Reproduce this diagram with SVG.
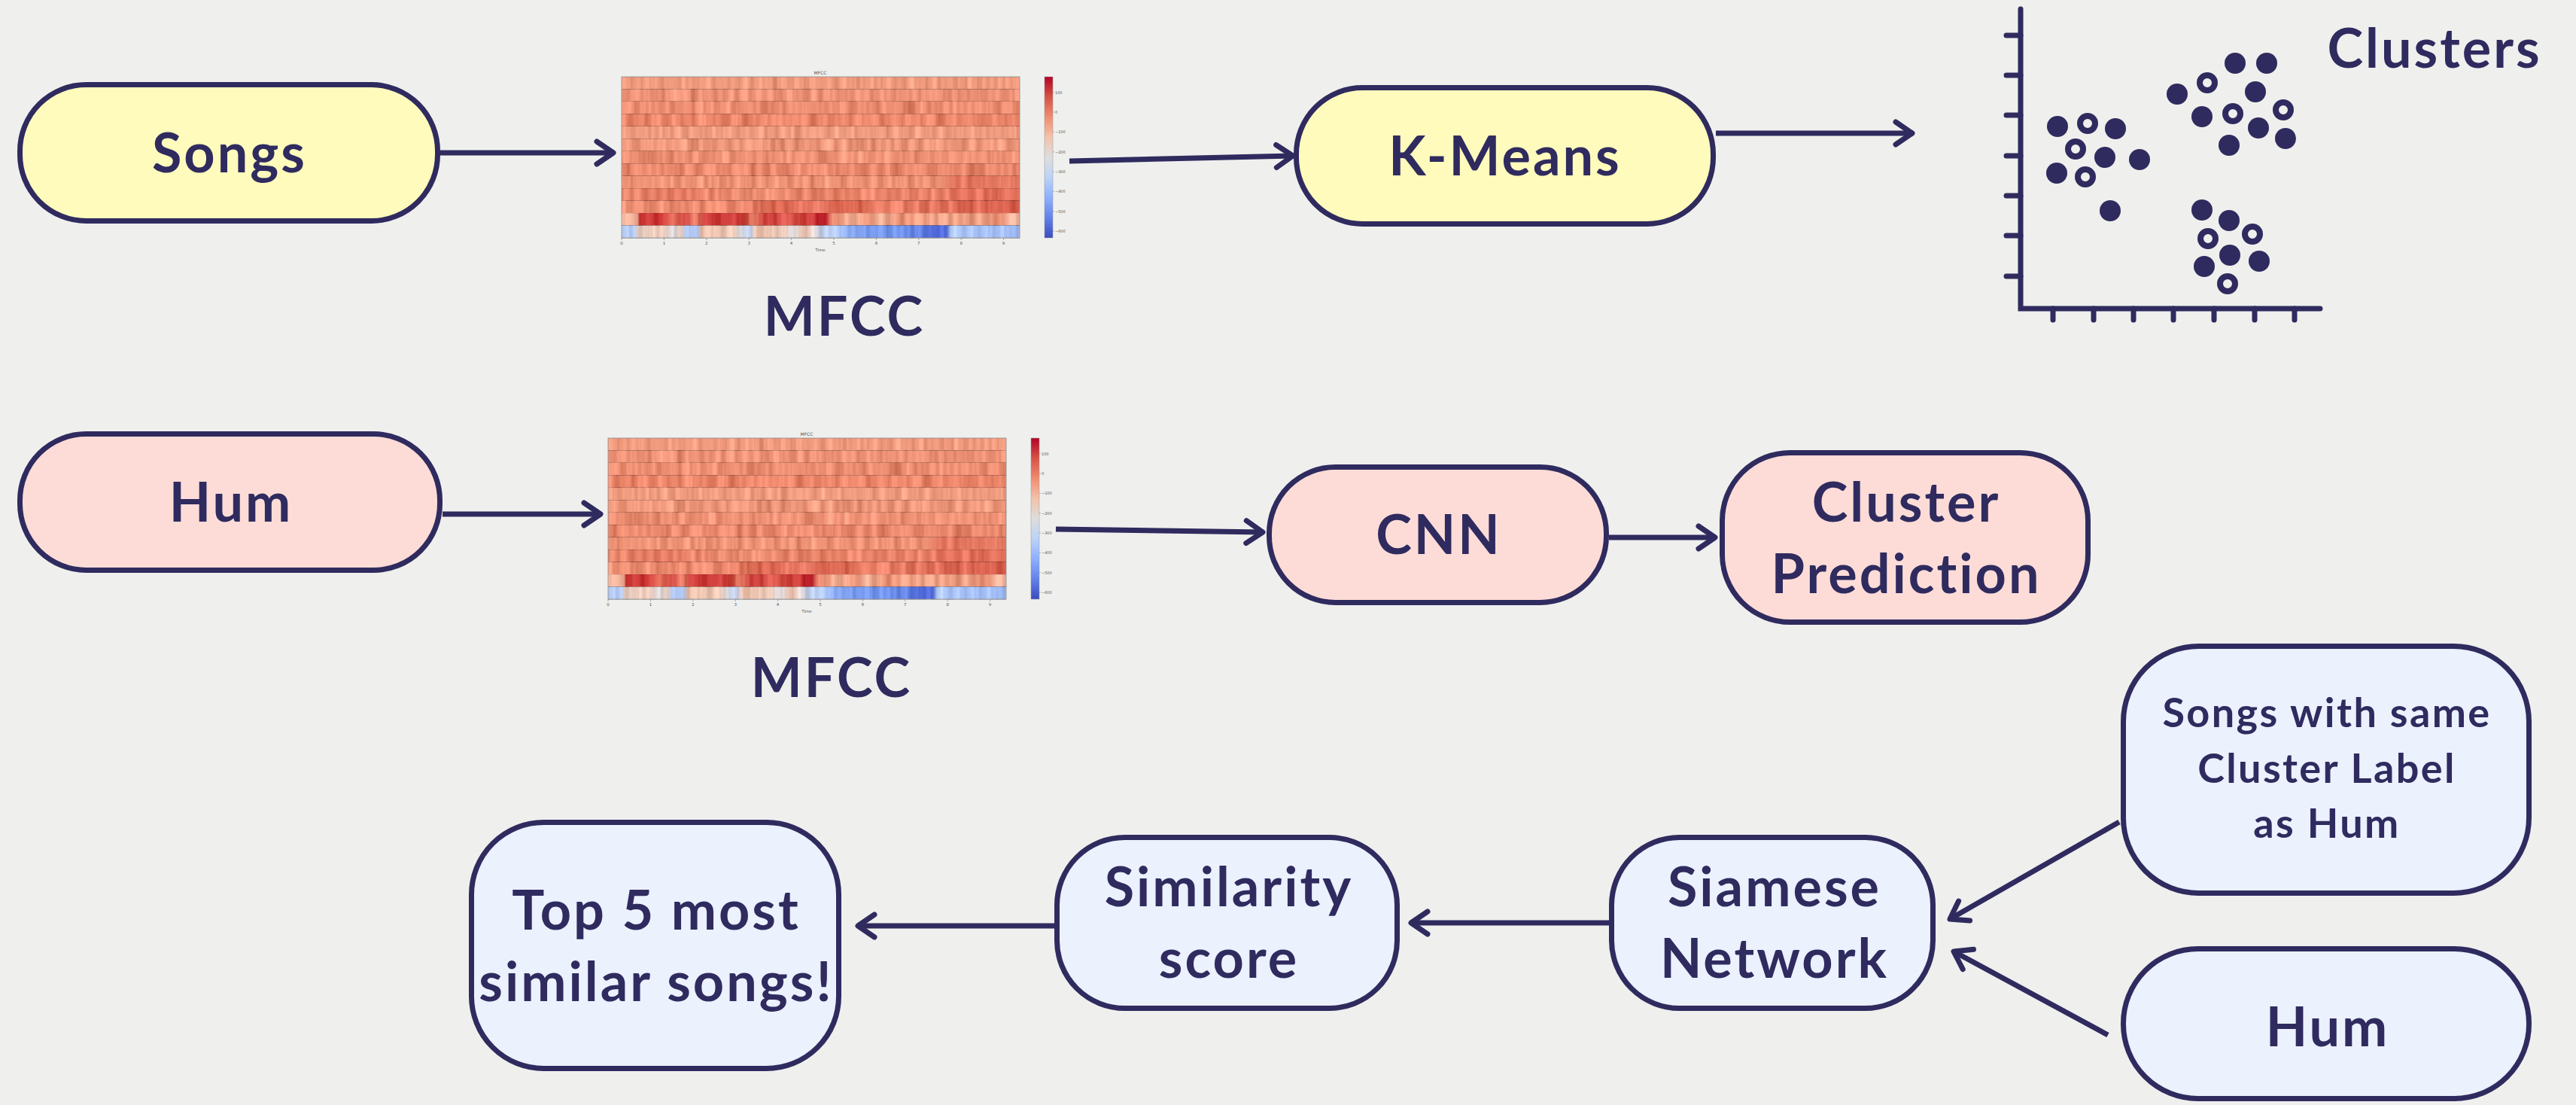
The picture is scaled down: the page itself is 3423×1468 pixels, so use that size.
<svg xmlns="http://www.w3.org/2000/svg" width="3423" height="1468" viewBox="0 0 3423 1468">
  <style>
    .node { stroke: #2f2b5f; stroke-width: 7; }
    .yellow { fill: #fffbbd; }
    .pink { fill: #fddcd7; }
    .blue { fill: #ebf1fd; }
    .label { font-family: Lato, "Liberation Sans", sans-serif; font-weight: 700; fill: #2f2b5f; text-anchor: middle; }
    .big { font-size: 72px; letter-spacing: 3px; }
    .mid { font-size: 54px; letter-spacing: 2.4px; }
    .edge { fill: none; stroke: #2f2b5f; stroke-width: 7; marker-end: url(#chev); }
    .tiny { font-family: "DejaVu Sans", sans-serif; fill: #555; text-anchor: middle; }
    .ink { fill: #2f2b5f; }
    .ring { fill: none; stroke: #2f2b5f; stroke-width: 8; }
    .axis { fill: none; stroke: #2f2b5f; stroke-width: 7; stroke-linecap: round; }
  </style>
  <defs>
    <marker id="chev" markerUnits="userSpaceOnUse" orient="auto" refX="0" refY="0" markerWidth="40" markerHeight="40" overflow="visible">
      <path d="M-22,-15 L0,0 L-22,15" fill="none" stroke="#2f2b5f" stroke-width="7" stroke-linecap="round" stroke-linejoin="round"/>
    </marker>

    <!-- frame-by-frame texture for the coefficient rows -->
    <filter id="frames" x="0" y="0" width="1" height="1" color-interpolation-filters="sRGB">
      <feTurbulence type="fractalNoise" baseFrequency="0.1 0.0025" numOctaves="3" seed="7" result="t"/>
      <feColorMatrix in="t" type="matrix" values="1 0 0 0 0  1 0 0 0 0  1 0 0 0 0  0 0 0 0 1" result="g"/>
      <feComposite in="SourceGraphic" in2="g" operator="arithmetic" k1="0" k2="1" k3="0.36" k4="-0.18"/>
    </filter>

    <linearGradient id="coolwarm" x1="0" y1="0" x2="0" y2="1">
      <stop offset="0" stop-color="#b40426"/>
      <stop offset="0.125" stop-color="#d65244"/>
      <stop offset="0.25" stop-color="#f08c6f"/>
      <stop offset="0.375" stop-color="#f3c2aa"/>
      <stop offset="0.5" stop-color="#dddddd"/>
      <stop offset="0.625" stop-color="#bcd2f7"/>
      <stop offset="0.75" stop-color="#8db0fe"/>
      <stop offset="0.875" stop-color="#6282ea"/>
      <stop offset="1" stop-color="#3b4cc0"/>
    </linearGradient>

    <linearGradient id="row8" x1="0" x2="1" y1="0" y2="0">
      <stop offset="0" stop-color="#ef9477"/>
      <stop offset="0.8" stop-color="#ee9275"/>
      <stop offset="0.84" stop-color="#e2745d"/>
      <stop offset="1" stop-color="#e47a62"/>
    </linearGradient>
    <linearGradient id="row9" x1="0" x2="1" y1="0" y2="0">
      <stop offset="0" stop-color="#ed8d72"/>
      <stop offset="0.14" stop-color="#e67b63"/>
      <stop offset="0.3" stop-color="#ee9074"/>
      <stop offset="0.55" stop-color="#eb866b"/>
      <stop offset="0.8" stop-color="#e98269"/>
      <stop offset="0.84" stop-color="#df6c56"/>
      <stop offset="1" stop-color="#e06e58"/>
    </linearGradient>
    <linearGradient id="row10" x1="0" x2="1" y1="0" y2="0">
      <stop offset="0" stop-color="#ee9074"/>
      <stop offset="0.3" stop-color="#eb876c"/>
      <stop offset="0.4" stop-color="#e06a55"/>
      <stop offset="0.5" stop-color="#e47560"/>
      <stop offset="0.55" stop-color="#df6853"/>
      <stop offset="0.7" stop-color="#e77e65"/>
      <stop offset="0.85" stop-color="#e06c57"/>
      <stop offset="1" stop-color="#dd6451"/>
    </linearGradient>
    <linearGradient id="row11" x1="0" x2="1" y1="0" y2="0">
      <stop offset="0" stop-color="#f4b89e"/>
      <stop offset="0.04" stop-color="#f4b39a"/>
      <stop offset="0.045" stop-color="#cc3a37"/>
      <stop offset="0.10" stop-color="#c8302f"/>
      <stop offset="0.13" stop-color="#e06a55"/>
      <stop offset="0.16" stop-color="#d9514a"/>
      <stop offset="0.19" stop-color="#e47a62"/>
      <stop offset="0.21" stop-color="#c93633"/>
      <stop offset="0.30" stop-color="#cc3c39"/>
      <stop offset="0.33" stop-color="#e77f66"/>
      <stop offset="0.36" stop-color="#c93a37"/>
      <stop offset="0.42" stop-color="#d85449"/>
      <stop offset="0.47" stop-color="#d4443f"/>
      <stop offset="0.49" stop-color="#c0282c"/>
      <stop offset="0.51" stop-color="#bb1f2a"/>
      <stop offset="0.53" stop-color="#e98a70"/>
      <stop offset="0.58" stop-color="#f2ad92"/>
      <stop offset="0.62" stop-color="#ec9478"/>
      <stop offset="0.65" stop-color="#f3b69c"/>
      <stop offset="0.70" stop-color="#ec9377"/>
      <stop offset="0.75" stop-color="#ee9a7e"/>
      <stop offset="0.80" stop-color="#f1a78c"/>
      <stop offset="0.85" stop-color="#ee9c80"/>
      <stop offset="0.90" stop-color="#f0a387"/>
      <stop offset="0.95" stop-color="#eb9075"/>
      <stop offset="0.98" stop-color="#f4b89f"/>
      <stop offset="1" stop-color="#f4b89f"/>
    </linearGradient>
    <linearGradient id="row12" x1="0" x2="1" y1="0" y2="0">
      <stop offset="0" stop-color="#b8cdf5"/>
      <stop offset="0.035" stop-color="#b8cdf5"/>
      <stop offset="0.04" stop-color="#e9cfc3"/>
      <stop offset="0.10" stop-color="#ecc9b8"/>
      <stop offset="0.13" stop-color="#dcd9dc"/>
      <stop offset="0.15" stop-color="#e7c8b9"/>
      <stop offset="0.16" stop-color="#b5cbf6"/>
      <stop offset="0.19" stop-color="#b5cbf6"/>
      <stop offset="0.20" stop-color="#efc4b0"/>
      <stop offset="0.28" stop-color="#eec8b5"/>
      <stop offset="0.30" stop-color="#d9d9df"/>
      <stop offset="0.32" stop-color="#c1d3f4"/>
      <stop offset="0.34" stop-color="#efc0aa"/>
      <stop offset="0.41" stop-color="#ebcbbc"/>
      <stop offset="0.43" stop-color="#dcdade"/>
      <stop offset="0.46" stop-color="#f0c3ae"/>
      <stop offset="0.49" stop-color="#dedadd"/>
      <stop offset="0.50" stop-color="#c9d6ef"/>
      <stop offset="0.54" stop-color="#b4cbf6"/>
      <stop offset="0.57" stop-color="#8faff7"/>
      <stop offset="0.62" stop-color="#7a9cf0"/>
      <stop offset="0.70" stop-color="#7194ee"/>
      <stop offset="0.75" stop-color="#6584e6"/>
      <stop offset="0.80" stop-color="#4a62d6"/>
      <stop offset="0.815" stop-color="#4d66d8"/>
      <stop offset="0.825" stop-color="#b4cbf8"/>
      <stop offset="0.88" stop-color="#a8c2f8"/>
      <stop offset="1" stop-color="#a3bef8"/>
    </linearGradient>

    <!-- MFCC heat map with colour bar, drawn at its own origin -->
    <g id="mfccPlot">
      <g transform="translate(0,0)"><rect x="0" y="0" width="529" height="16.7" fill="#f09a7e" filter="url(#frames)"/></g>
      <g transform="translate(0,-283.54)"><rect x="0" y="300" width="529" height="16.7" fill="#ef9478" filter="url(#frames)"/></g>
      <g transform="translate(0,-567.08)"><rect x="0" y="600" width="529" height="16.7" fill="#ee8f73" filter="url(#frames)"/></g>
      <g transform="translate(0,-850.62)"><rect x="0" y="900" width="529" height="16.7" fill="#eb866b" filter="url(#frames)"/></g>
      <g transform="translate(0,-1134.15)"><rect x="0" y="1200" width="529" height="16.7" fill="#f09c80" filter="url(#frames)"/></g>
      <g transform="translate(0,-1417.69)"><rect x="0" y="1500" width="529" height="16.7" fill="#ef987b" filter="url(#frames)"/></g>
      <g transform="translate(0,-1701.23)"><rect x="0" y="1800" width="529" height="16.7" fill="#ed8f73" filter="url(#frames)"/></g>
      <g transform="translate(0,-1984.77)"><rect x="0" y="2100" width="529" height="16.7" fill="#ec8a6f" filter="url(#frames)"/></g>
      <g transform="translate(0,-2268.31)"><rect x="0" y="2400" width="529" height="16.7" fill="url(#row8)" filter="url(#frames)"/></g>
      <g transform="translate(0,-2551.85)"><rect x="0" y="2700" width="529" height="16.7" fill="url(#row9)" filter="url(#frames)"/></g>
      <g transform="translate(0,-2835.38)"><rect x="0" y="3000" width="529" height="16.7" fill="url(#row10)" filter="url(#frames)"/></g>
      <g transform="translate(0,-3118.92)"><rect x="0" y="3300" width="529" height="16.7" fill="url(#row11)" filter="url(#frames)"/></g>
      <g transform="translate(0,-3402.46)"><rect x="0" y="3600" width="529" height="16.5" fill="url(#row12)" filter="url(#frames)"/></g>
      <rect x="0" y="0" width="529" height="214" fill="none" stroke="#8a8a8a" stroke-width="0.8"/>
      <path d="M0,214v3 M56.4,214v3 M112.8,214v3 M169.2,214v3 M225.6,214v3 M282,214v3 M338.4,214v3 M394.8,214v3 M451.2,214v3 M507.6,214v3" stroke="#777" stroke-width="0.6"/>
      <g class="tiny" font-size="5.5">
        <text x="0" y="223">0</text>
        <text x="56.4" y="223">1</text>
        <text x="112.8" y="223">2</text>
        <text x="169.2" y="223">3</text>
        <text x="225.6" y="223">4</text>
        <text x="282" y="223">5</text>
        <text x="338.4" y="223">6</text>
        <text x="394.8" y="223">7</text>
        <text x="451.2" y="223">8</text>
        <text x="507.6" y="223">9</text>
        <text x="264" y="232">Time</text>
        <text x="264" y="-3" font-size="6">MFCC</text>
      </g>
      <rect x="562" y="0" width="11" height="214" fill="url(#coolwarm)" stroke="#999" stroke-width="0.5"/>
      <path d="M573,20.7h2 M573,47h2 M573,73.3h2 M573,99.7h2 M573,126h2 M573,152.3h2 M573,178.7h2 M573,205h2" stroke="#777" stroke-width="0.5"/>
      <g class="tiny" font-size="5" style="text-anchor:start">
        <text x="576" y="22.5">100</text>
        <text x="576" y="48.8">0</text>
        <text x="576" y="75.1">−100</text>
        <text x="576" y="101.5">−200</text>
        <text x="576" y="127.8">−300</text>
        <text x="576" y="154.1">−400</text>
        <text x="576" y="180.5">−500</text>
        <text x="576" y="206.8">−600</text>
      </g>
    </g>
  </defs>

  <rect x="0" y="0" width="3423" height="1468" fill="#efefed"/>

  <!-- connectors -->
  <g id="connectors">
    <path class="edge" d="M585,203 L815,203"/>
    <path class="edge" d="M1421,214 L1718,207"/>
    <path class="edge" d="M2280,177 L2541,177"/>
    <path class="edge" d="M588,683 L798,683"/>
    <path class="edge" d="M1403,703 L1678,707"/>
    <path class="edge" d="M2138,714 L2279,714"/>
    <path class="edge" d="M2138,1226 L1875,1226"/>
    <path class="edge" d="M1401,1230 L1140,1230"/>
    <path class="edge" d="M2816,1092 L2591,1221"/>
    <path class="edge" d="M2801,1375 L2596,1264"/>
  </g>

  <!-- row 1: songs -->
  <g id="songs">
    <rect class="node yellow" x="26.5" y="112.5" width="555" height="181" rx="88"/>
    <text class="label big" x="305" y="229">Songs</text>
  </g>
  <g id="mfcc-songs">
    <use href="#mfccPlot" transform="translate(826,102)"/>
    <text class="label big" x="1122" y="446">MFCC</text>
  </g>
  <g id="kmeans">
    <rect class="node yellow" x="1722.5" y="116.5" width="554" height="181" rx="88"/>
    <text class="label big" x="2000" y="233">K-Means</text>
  </g>
  <g id="clusters">
    <path class="axis" d="M2685,12 V410 H3083"/>
    <path class="axis" d="M2666,47 H2685 M2666,100 H2685 M2666,153 H2685 M2666,207 H2685 M2666,260 H2685 M2666,313 H2685 M2666,367 H2685"/>
    <path class="axis" d="M2728,410 V425 M2782,410 V425 M2835,410 V425 M2888,410 V425 M2942,410 V425 M2996,410 V425 M3049,410 V425"/>
    <g class="ink">
      <circle cx="2734" cy="168" r="14"/>
      <circle cx="2811" cy="171" r="14"/>
      <circle cx="2797" cy="209" r="14"/>
      <circle cx="2843" cy="212" r="14"/>
      <circle cx="2733" cy="230" r="14"/>
      <circle cx="2804" cy="280" r="14"/>
      <circle cx="2970" cy="84" r="14"/>
      <circle cx="3012" cy="84" r="14"/>
      <circle cx="2893" cy="125" r="14"/>
      <circle cx="2997" cy="122" r="14"/>
      <circle cx="2926" cy="155" r="14"/>
      <circle cx="3001" cy="170" r="14"/>
      <circle cx="3037" cy="184" r="14"/>
      <circle cx="2962" cy="193" r="14"/>
      <circle cx="2926" cy="279" r="14"/>
      <circle cx="2962" cy="293" r="14"/>
      <circle cx="2963" cy="339" r="14"/>
      <circle cx="3002" cy="347" r="14"/>
      <circle cx="2929" cy="354" r="14"/>
    </g>
    <g>
      <circle class="ring" cx="2774" cy="164" r="10"/>
      <circle class="ring" cx="2758" cy="198" r="10"/>
      <circle class="ring" cx="2771" cy="235" r="10"/>
      <circle class="ring" cx="2933" cy="110" r="10"/>
      <circle class="ring" cx="2967" cy="151" r="10"/>
      <circle class="ring" cx="3034" cy="146" r="10"/>
      <circle class="ring" cx="2934" cy="317" r="10"/>
      <circle class="ring" cx="2993" cy="311" r="10"/>
      <circle class="ring" cx="2960" cy="377" r="10"/>
    </g>
    <text class="label big" x="3235" y="90">Clusters</text>
  </g>

  <!-- row 2: hum -->
  <g id="hum">
    <rect class="node pink" x="26.5" y="576.5" width="558" height="181" rx="88"/>
    <text class="label big" x="307" y="693">Hum</text>
  </g>
  <g id="mfcc-hum">
    <use href="#mfccPlot" transform="translate(808,582)"/>
    <text class="label big" x="1105" y="926">MFCC</text>
  </g>
  <g id="cnn">
    <rect class="node pink" x="1686.5" y="620.5" width="448" height="180" rx="88"/>
    <text class="label big" x="1912" y="736">CNN</text>
  </g>
  <g id="cluster-prediction">
    <rect class="node pink" x="2288.5" y="601.5" width="486" height="225" rx="90"/>
    <text class="label big" x="2533" y="693">Cluster</text>
    <text class="label big" x="2533" y="788">Prediction</text>
  </g>

  <!-- row 3: matching -->
  <g id="same-cluster-songs">
    <rect class="node blue" x="2821.5" y="858.5" width="539" height="328" rx="100"/>
    <text class="label mid" x="3092" y="966">Songs with same</text>
    <text class="label mid" x="3092" y="1040">Cluster Label</text>
    <text class="label mid" x="3092" y="1113">as Hum</text>
  </g>
  <g id="hum-input">
    <rect class="node blue" x="2821.5" y="1260.5" width="539" height="199" rx="99"/>
    <text class="label big" x="3093" y="1390">Hum</text>
  </g>
  <g id="siamese">
    <rect class="node blue" x="2141.5" y="1112.5" width="427" height="227" rx="90"/>
    <text class="label big" x="2358" y="1204">Siamese</text>
    <text class="label big" x="2358" y="1299">Network</text>
  </g>
  <g id="similarity">
    <rect class="node blue" x="1404.5" y="1112.5" width="452" height="227" rx="90"/>
    <text class="label big" x="1633" y="1204">Similarity</text>
    <text class="label big" x="1633" y="1299">score</text>
  </g>
  <g id="top5">
    <rect class="node blue" x="626.5" y="1092.5" width="488" height="327" rx="96"/>
    <text class="label big" x="872" y="1235">Top 5 most</text>
    <text class="label big" x="872" y="1330">similar songs!</text>
  </g>
</svg>
